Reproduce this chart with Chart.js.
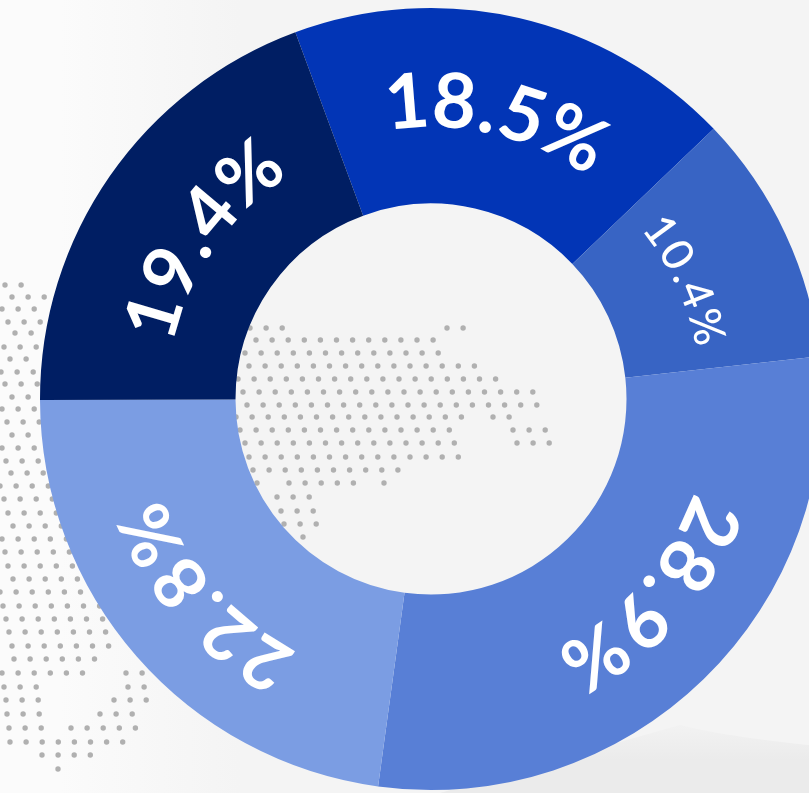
<!DOCTYPE html>
<html>
<head>
<meta charset="utf-8">
<title>Donut</title>
<script src="https://cdn.jsdelivr.net/npm/chart.js@4"></script>
<style>
  html, body { margin: 0; height: 100%; overflow: hidden; background: #f6f6f6; }
  #wrap { position: absolute; left: 0; top: 0; width: 809px; height: 793px; overflow: hidden; }
  #chart { position: absolute; left: 0; top: 0; filter: blur(0.6px); }
</style>
</head>
<body>
<div id="wrap"><canvas id="chart" width="862" height="793"></canvas></div>
<script>
// ========== Data ==========
const shareLabels = ['18.5%', '10.4%', '28.9%', '22.8%', '19.4%'];
const shareValues = [18.5, 10.4, 28.9, 22.8, 19.4];
const sliceColors = ['#0235b6', '#3864c4', '#587fd6', '#7b9de3', '#001e63'];

// ========== Label look (same order as the slices) ==========
const labelSizes = [76, 44, 76, 72, 74];
const labelWeights = [700, 500, 700, 700, 700];
const labelRadius = [272, 270, 279, 286, 264];
const labelShift = [0, 0, -4.2, 0, 0];
const labelSpacing = [4, 4, 5, 6, 5];

// ========== Backdrop dots: [y, x, count, x, count...] ==========
const dotStep = 16.1;
const dotRows = [
  [285,5,2],[297,12,3],[309,2,3],[322,8,3],[333,15,2],[347,4,3],[359,10,2],[372,1,3],
  [384,5,3],[397,12,2],[409,2,3],[422,7,3],[435,12,2],[448,2,3],[461,6,3],[473,11,3],
  [486,0,4],[499,4,4],[513,8,4],[526,13,4],[539,2,5],[552,5,5],[566,8,5],[579,13,5],
  [592,0,6],[606,3,7],[619,6,7],[632,9,7],[646,12,7],[659,14,6],
  [673,2,6,126,2],[687,4,3,128,2],[700,6,3,114,3],[714,7,3,100,3],[728,9,3,71,5],
  [742,10,8],[755,42,4],[769,58,1],
  [328,250,3,447,2],[340,256,12],[353,245,13],[366,249,15],[379,238,17],[392,243,19],
  [405,247,19],[417,236,15,493,2],[430,240,14,513,3],[443,245,14,517,3],[457,249,14],
  [470,253,10],[483,257,1,289,5,384,1],[497,277,3],[511,281,3],[524,284,3],[537,303,1]
];

// ========== Plugins ==========
const backdrop = {
  id: 'backdrop',
  beforeDatasetsDraw(chart) {
    const ctx = chart.ctx;
    ctx.save();
    const wash = ctx.createLinearGradient(60, 0, 240, 0);
    wash.addColorStop(0, '#fbfbfb');
    wash.addColorStop(1, '#f4f4f4');
    ctx.fillStyle = wash;
    ctx.fillRect(0, 0, 862, 793);
    const band = ctx.createLinearGradient(0, 720, 0, 760);
    band.addColorStop(0, '#f3f3f3');
    band.addColorStop(1, '#ebebeb');
    ctx.fillStyle = band;
    ctx.beginPath();
    ctx.moveTo(440, 793);
    ctx.lineTo(680, 725);
    ctx.quadraticCurveTo(740, 740, 862, 750);
    ctx.lineTo(862, 793);
    ctx.closePath();
    ctx.fill();
    ctx.fillStyle = '#b0b0b0';
    dotRows.forEach(row => {
      for (let i = 1; i < row.length; i += 2) {
        for (let n = 0; n < row[i + 1]; n++) {
          ctx.beginPath();
          ctx.arc(row[i] + n * dotStep, row[0], 2.7, 0, Math.PI * 2);
          ctx.fill();
        }
      }
    });
    ctx.restore();
  }
};

// each label is bent round the ring, one character at a time
const arcLabels = {
  id: 'arcLabels',
  afterDatasetsDraw(chart) {
    const ctx = chart.ctx;
    chart.getDatasetMeta(0).data.forEach((arc, i) => {
      const p = arc.getProps(['x', 'y', 'startAngle', 'endAngle']);
      const text = shareLabels[i];
      const size = labelSizes[i];
      const gap = labelSpacing[i];
      const mid = (p.startAngle + p.endAngle) / 2 + Math.PI / 2 + labelShift[i] * Math.PI / 180;
      const rBase = labelRadius[i];
      const rMid = rBase + size * 0.36;
      ctx.save();
      ctx.font = labelWeights[i] + ' ' + size + 'px Lato';
      ctx.fillStyle = '#ffffff';
      ctx.textAlign = 'center';
      ctx.textBaseline = 'alphabetic';
      const total = ctx.measureText(text).width + gap * (text.length - 1);
      for (let c = 0; c < text.length; c++) {
        const before = ctx.measureText(text.slice(0, c)).width + gap * c;
        const w = ctx.measureText(text[c]).width;
        const a = mid + (before + w / 2 - total / 2) / rMid;
        ctx.save();
        ctx.translate(p.x + rBase * Math.sin(a), p.y - rBase * Math.cos(a));
        ctx.rotate(a);
        ctx.fillText(text[c], 0, 0);
        ctx.restore();
      }
      ctx.restore();
    });
  }
};

// ========== Chart ==========
new Chart(document.getElementById('chart').getContext('2d'), {
  type: 'doughnut',
  data: {
    labels: shareLabels,
    datasets: [{
      data: shareValues,
      backgroundColor: sliceColors,
      borderWidth: 0
    }]
  },
  options: {
    responsive: false,
    animation: false,
    rotation: -20.3,
    cutout: '50%',
    layout: { padding: { top: 8, bottom: 3 } },
    plugins: {
      legend: { display: false },
      tooltip: { enabled: false }
    }
  },
  plugins: [backdrop, arcLabels]
});
</script>
</body>
</html>
